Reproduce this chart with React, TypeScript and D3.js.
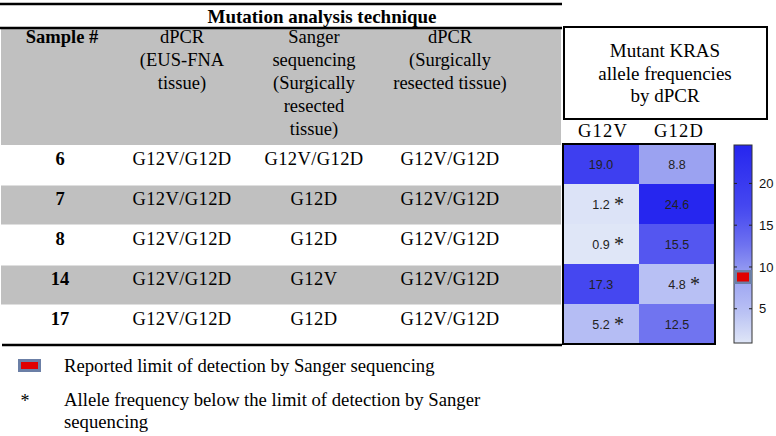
import React from "react";
import * as d3 from "d3";

const samples = ["6", "7", "8", "14", "17"];
const dpcrEus = ["G12V/G12D", "G12V/G12D", "G12V/G12D", "G12V/G12D", "G12V/G12D"];
const sanger = ["G12V/G12D", "G12D", "G12D", "G12V", "G12D"];
const dpcrSurg = ["G12V/G12D", "G12V/G12D", "G12V/G12D", "G12V/G12D", "G12V/G12D"];
const mutations = ["G12V", "G12D"];
const g12v = [19.0, 1.2, 0.9, 17.3, 5.2];
const g12d = [8.8, 24.6, 15.5, 4.8, 12.5];
const g12vStar = [false, true, true, false, true];
const g12dStar = [false, false, false, true, false];
const cbTicks = [5, 10, 15, 20];
const lodValue = 8.8;
const headerCols = [
  ["dPCR", "(EUS-FNA", "tissue)"],
  ["Sanger", "sequencing", "(Surgically", "resected", "tissue)"],
  ["dPCR", "(Surgically", "resected tissue)"],
];
const boxLines = ["Mutant KRAS", "allele frequencies", "by dPCR"];

const SERIF = "'Liberation Serif', 'Times New Roman', serif";
const SANS = "'Liberation Sans', Arial, sans-serif";
const GRAY = "#c0c0c0";

export default function App() {
  const W = 776, H = 436;
  const vmin = 0.9, vmax = 24.6;
  const color = d3
    .scaleLinear<string>()
    .domain([0.9, 5, 9, 13, 17, 24.6])
    .range(["#dfe6f7", "#b6bef4", "#9aa1f1", "#6a6ef0", "#4648f0", "#2626ef"]);

  const rowY = d3.scaleBand<string>().domain(samples).range([145, 345]);
  const hx = d3.scaleBand<string>().domain(mutations).range([563, 715]);
  const hy = d3.scaleBand<string>().domain(samples).range([144, 344]);
  const cbY = d3.scaleLinear().domain([vmin, vmax]).range([343, 145]);
  const colX = [182, 314, 450];
  const sampleX = 60;

  const gradStops = d3.range(0, 1.0001, 0.05).map((t) => ({
    off: t,
    c: color(vmin + t * (vmax - vmin)),
  }));

  const cells: { m: string; s: string; v: number; star: boolean }[] = [];
  samples.forEach((s, i) => {
    cells.push({ m: "G12V", s, v: g12v[i], star: g12vStar[i] });
    cells.push({ m: "G12D", s, v: g12d[i], star: g12dStar[i] });
  });

  const cbX0 = 734, cbX1 = 752;
  const lodY = cbY(lodValue);

  return (
    <svg
      width={W}
      height={H}
      style={{ position: "absolute", left: 0, top: 0, background: "#fff" }}
      fontFamily={SERIF}
    >
      <defs>
        <linearGradient id="cbgrad" x1="0" y1="1" x2="0" y2="0">
          {gradStops.map((g, i) => (
            <stop key={i} offset={g.off} stopColor={g.c} />
          ))}
        </linearGradient>
      </defs>

      {/* header band */}
      <rect x={1} y={29} width={560} height={116} fill={GRAY} />
      {samples.map((s, i) =>
        i % 2 === 1 ? (
          <rect key={s} x={1} y={rowY(s)! + 0.5} width={560} height={rowY.bandwidth() - 1} fill={GRAY} />
        ) : null
      )}
      <line x1={0} x2={562} y1={4} y2={4} stroke="#000" strokeWidth={2.5} />
      <line x1={0} x2={562} y1={28} y2={28} stroke="#000" strokeWidth={2.5} />
      <line x1={2} x2={562} y1={345} y2={345} stroke="#000" strokeWidth={2.5} />

      <text x={322} y={23} textAnchor="middle" fontWeight="bold" fontSize={19}>
        Mutation analysis technique
      </text>
      <text x={62} y={43} textAnchor="middle" fontWeight="bold" fontSize={18.5}>
        Sample #
      </text>
      {headerCols.map((lines, ci) =>
        lines.map((l, li) => (
          <text key={ci + "-" + li} x={colX[ci]} y={43 + li * 23} textAnchor="middle" fontSize={18.5}>
            {l}
          </text>
        ))
      )}

      {/* data rows */}
      {samples.map((s, i) => {
        const y = rowY(s)! + 20;
        return (
          <g key={s} fontSize={18.5}>
            <text x={sampleX} y={y} textAnchor="middle" fontWeight="bold">{s}</text>
            <text x={colX[0]} y={y} textAnchor="middle" letterSpacing={0.4}>{dpcrEus[i]}</text>
            <text x={colX[1]} y={y} textAnchor="middle" letterSpacing={0.4}>{sanger[i]}</text>
            <text x={colX[2]} y={y} textAnchor="middle" letterSpacing={0.4}>{dpcrSurg[i]}</text>
          </g>
        );
      })}

      {/* box */}
      <rect x={564} y={27} width={203} height={92} fill="none" stroke="#000" strokeWidth={2} />
      {boxLines.map((l, i) => (
        <text key={i} x={665} y={57 + i * 22.5} textAnchor="middle" fontSize={19}>
          {l}
        </text>
      ))}
      {mutations.map((m) => (
        <text key={m} x={hx(m)! + hx.bandwidth() / 2 + 2} y={137} textAnchor="middle" fontSize={18.5} letterSpacing={1.2}>
          {m}
        </text>
      ))}

      {/* heatmap */}
      {cells.map((c) => (
        <rect
          key={c.m + c.s}
          x={hx(c.m)!}
          y={hy(c.s)!}
          width={hx.bandwidth()}
          height={hy.bandwidth()}
          fill={color(c.v)}
        />
      ))}
      {cells.map((c) => {
        const cx = hx(c.m)! + hx.bandwidth() / 2;
        const cy = hy(c.s)! + hy.bandwidth() / 2;
        return (
          <g key={"t" + c.m + c.s}>
            <text x={cx} y={cy + 4.5} textAnchor="middle" fontFamily={SANS} fontSize={12.5} fill="#222">
              {c.v.toFixed(1)}
            </text>
            {c.star ? (
              <text x={cx + 18} y={cy + 7} textAnchor="middle" fontSize={20} fill="#222">
                *
              </text>
            ) : null}
          </g>
        );
      })}
      <rect x={563} y={144} width={152} height={200} fill="none" stroke="#000" strokeWidth={2} />

      {/* colorbar */}
      <rect x={cbX0} y={145} width={cbX1 - cbX0} height={198} fill="url(#cbgrad)" stroke="#333" strokeWidth={1} />
      {cbTicks.map((t) => (
        <g key={t}>
          <line x1={cbX0} x2={cbX0 + 3} y1={cbY(t)} y2={cbY(t)} stroke="#222" strokeWidth={1} />
          <line x1={cbX1 - 3} x2={cbX1} y1={cbY(t)} y2={cbY(t)} stroke="#222" strokeWidth={1} />
          <text x={759} y={cbY(t)} dy="0.35em" fontFamily={SANS} fontSize={13} fill="#111">
            {t}
          </text>
        </g>
      ))}
      <rect x={cbX0} y={lodY - 7} width={cbX1 - cbX0} height={14} fill="#6b7fa6" />
      <rect x={cbX0 + 3} y={lodY - 4.5} width={cbX1 - cbX0 - 6} height={9} fill="#e00000" />

      {/* legend */}
      <rect x={18} y={359} width={23} height={13} fill="#6b7fa6" />
      <rect x={21} y={362} width={17} height={7} fill="#e00000" />
      <text x={64} y={372} fontSize={18.7}>Reported limit of detection by Sanger sequencing</text>
      <text x={25} y={407} textAnchor="middle" fontSize={18}>*</text>
      <text x={64} y={406} fontSize={18.7}>Allele frequency below the limit of detection by Sanger</text>
      <text x={64} y={428} fontSize={18.7}>sequencing</text>
    </svg>
  );
}
